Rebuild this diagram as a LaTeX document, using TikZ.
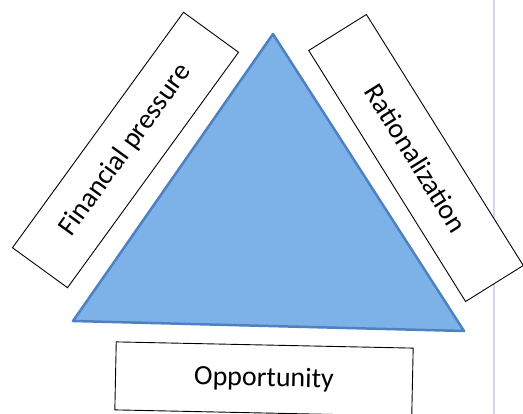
\documentclass[tikz,border=0pt]{standalone}
\usepackage{fontspec}
\setmainfont{Carlito}
\definecolor{trifill}{RGB}{125,178,232}
\definecolor{triedge}{RGB}{78,128,196}
\definecolor{rule}{RGB}{212,212,236}
\begin{document}
\begin{tikzpicture}[x=1pt,y=-1pt,
  labelbox/.style={draw=black,line width=0.9pt,fill=white,inner sep=0pt,
    minimum height=68pt,font=\fontsize{28}{34}\selectfont}]
\useasboundingbox (0,0) rectangle (523,414);
\fill[white] (0,0) rectangle (523,414);
\draw[rule,line width=1.5pt] (494,0) -- (494,414);
\coordinate (apex) at (273,34);
\coordinate (bl) at (73,321);
\coordinate (br) at (464,331);
\draw[triedge,fill=trifill,line width=2.5pt,line join=round] (apex) -- (br) -- (bl) -- cycle;
\node[labelbox,minimum width=291pt,rotate=54] (fin) at (125.5,150) {Financial pressure};
\node[labelbox,minimum width=296pt,rotate=-58] (rat) at (416,158) {Rationalization};
\node[labelbox,minimum width=297pt,rotate=-1.2] (opp) at (264,379) {Opportunity};
\end{tikzpicture}
\end{document}
